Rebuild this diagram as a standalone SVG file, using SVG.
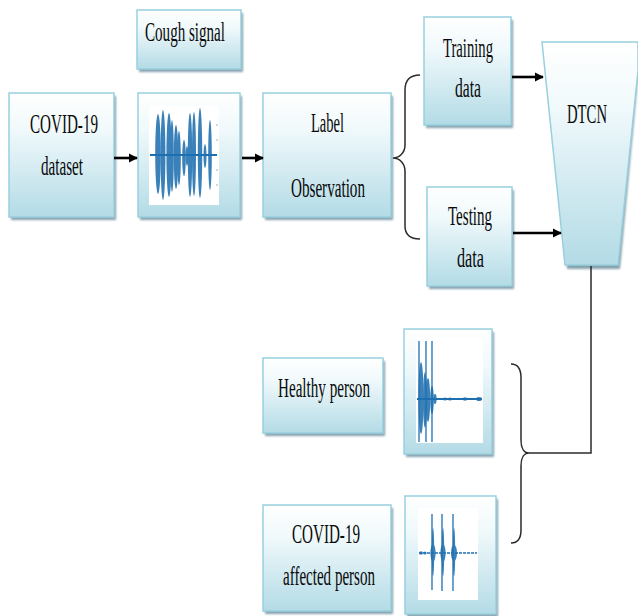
<svg xmlns="http://www.w3.org/2000/svg" width="638" height="616" viewBox="0 0 638 616">
  <defs>
    <linearGradient id="boxFill" x1="0" y1="0" x2="0" y2="1">
      <stop offset="0" stop-color="#ffffff"/>
      <stop offset="0.3" stop-color="#f0f9fb"/>
      <stop offset="1" stop-color="#b3dbe6"/>
    </linearGradient>
    <filter id="soft" x="-10%" y="-10%" width="120%" height="120%">
      <feGaussianBlur stdDeviation="0.8"/>
    </filter>
    <filter id="waveBlur" x="-10%" y="-10%" width="120%" height="120%">
      <feGaussianBlur stdDeviation="0.6"/>
    </filter>
    <marker id="arrow" viewBox="0 0 10 10" refX="9" refY="5" markerWidth="9" markerHeight="11" markerUnits="userSpaceOnUse" orient="auto">
      <path d="M0,0 L10,5 L0,10 Z" fill="#000"/>
    </marker>
  </defs>
  <style>
    .shadow { fill: #86a2ad; filter: url(#soft); }
    .box { fill: url(#boxFill); stroke: #98d0de; stroke-width: 1.5; }
    .inner { fill: #ffffff; }
    .lbl { font-family: "Liberation Serif", "Times New Roman", serif; font-size: 27px; fill: #0a0a0a; }
    .mid { text-anchor: middle; }
    .arr { stroke: #000; stroke-width: 2.6; fill: none; marker-end: url(#arrow); }
    .brace { stroke: #2b2b2b; stroke-width: 1.5; fill: none; }
    .wave { filter: url(#waveBlur); }
    .wv { stroke: #1f6fb0; fill: none; }
    .blob { fill: #1f6fb0; opacity: 0.88; }
  </style>

  <rect width="638" height="616" fill="#ffffff"/>

  <!-- Cough signal caption -->
  <g id="cough-signal-title">
    <rect class="shadow" x="139" y="13" width="104" height="59"/>
    <rect class="box" x="137" y="10" width="104" height="59"/>
    <text class="lbl" x="145" y="41" textLength="80" lengthAdjust="spacingAndGlyphs">Cough signal</text>
  </g>

  <!-- COVID-19 dataset -->
  <g id="dataset">
    <rect class="shadow" x="11" y="96" width="105" height="124"/>
    <rect class="box" x="9" y="93" width="105" height="124"/>
    <text class="lbl" x="30" y="133" textLength="68" lengthAdjust="spacingAndGlyphs">COVID-19</text>
    <text class="lbl" x="41" y="175" textLength="42" lengthAdjust="spacingAndGlyphs">dataset</text>
  </g>

  <!-- Cough waveform -->
  <g id="cough-wave">
    <rect class="shadow" x="140" y="96" width="102" height="124"/>
    <rect class="box" x="138" y="93" width="102" height="124"/>
    <rect class="inner" x="149" y="106" width="70" height="99"/>
    <g class="wave">
      <line class="wv" x1="150" y1="155" x2="217" y2="155" stroke-width="1.8"/>
      <g class="blob">
        <ellipse cx="158" cy="154" rx="2.8" ry="40"/>
        <ellipse cx="163" cy="155" rx="2.4" ry="45"/>
        <ellipse cx="169" cy="155" rx="2.6" ry="42"/>
        <ellipse cx="172" cy="156" rx="1.8" ry="36"/>
        <ellipse cx="176" cy="157" rx="2.2" ry="32"/>
        <ellipse cx="179" cy="158" rx="1.8" ry="27"/>
        <ellipse cx="184" cy="158" rx="1.8" ry="18"/>
        <ellipse cx="187" cy="156" rx="1.4" ry="10"/>
        <ellipse cx="190" cy="155" rx="2.2" ry="42"/>
        <ellipse cx="194" cy="154" rx="2" ry="42"/>
        <ellipse cx="200" cy="153" rx="2.2" ry="45"/>
        <ellipse cx="205" cy="156" rx="1.5" ry="12"/>
        <ellipse cx="210" cy="155" rx="1.8" ry="35"/>
      </g>
    </g>
    <g fill="#9aa7b0">
      <circle cx="217" cy="125" r="0.8"/>
      <circle cx="217" cy="140" r="0.8"/>
      <circle cx="217" cy="170" r="0.8"/>
      <circle cx="217" cy="185" r="0.8"/>
    </g>
  </g>

  <!-- Label observation -->
  <g id="label-observation">
    <rect class="shadow" x="265" y="96" width="128" height="124"/>
    <rect class="box" x="263" y="93" width="128" height="124"/>
    <text class="lbl" x="311" y="132" textLength="33" lengthAdjust="spacingAndGlyphs">Label</text>
    <text class="lbl" x="291" y="197" textLength="74" lengthAdjust="spacingAndGlyphs">Observation</text>
  </g>

  <!-- Training data -->
  <g id="training-data">
    <rect class="shadow" x="426" y="20" width="87" height="108"/>
    <rect class="box" x="424" y="17" width="87" height="108"/>
    <text class="lbl" x="443" y="57" textLength="50" lengthAdjust="spacingAndGlyphs">Training</text>
    <text class="lbl" x="455" y="97" textLength="26" lengthAdjust="spacingAndGlyphs">data</text>
  </g>

  <!-- Testing data -->
  <g id="testing-data">
    <rect class="shadow" x="429" y="190" width="85" height="99"/>
    <rect class="box" x="427" y="187" width="85" height="99"/>
    <text class="lbl" x="448" y="225" textLength="44" lengthAdjust="spacingAndGlyphs">Testing</text>
    <text class="lbl" x="457" y="267" textLength="27" lengthAdjust="spacingAndGlyphs">data</text>
  </g>

  <!-- DTCN funnel (right edge runs off the canvas edge) -->
  <g id="dtcn">
    <polygon class="shadow" points="544,45 638,45 638,78 620,269 567,269"/>
    <polygon class="box" points="542,42 638,42 638,71 618,265 565,265"/>
    <text class="lbl mid" transform="translate(587,123) scale(0.545,1)">DTCN</text>
  </g>

  <!-- Healthy person -->
  <g id="healthy-person">
    <rect class="shadow" x="265" y="361" width="120" height="75"/>
    <rect class="box" x="263" y="358" width="120" height="75"/>
    <text class="lbl" x="278" y="397" textLength="92" lengthAdjust="spacingAndGlyphs">Healthy person</text>
  </g>

  <!-- Healthy waveform -->
  <g id="healthy-wave">
    <rect class="shadow" x="406" y="332" width="88" height="125"/>
    <rect class="box" x="404" y="329" width="88" height="125"/>
    <rect class="inner" x="416" y="338" width="67" height="105"/>
    <g class="wave">
      <line class="wv" x1="417" y1="399" x2="482" y2="399" stroke-width="1.8"/>
      <g class="wv" stroke-width="1.3">
        <line x1="419" y1="341" x2="419" y2="442"/>
        <line x1="426" y1="341" x2="426" y2="442"/>
        <line x1="432" y1="341" x2="432" y2="442"/>
      </g>
      <g class="blob">
        <ellipse cx="421" cy="398" rx="2.6" ry="36"/>
        <ellipse cx="425" cy="400" rx="2" ry="28"/>
        <ellipse cx="428" cy="400" rx="2.2" ry="22"/>
        <ellipse cx="432" cy="400" rx="1.8" ry="14"/>
        <ellipse cx="435" cy="399" rx="1.6" ry="5"/>
        <ellipse cx="445" cy="399" rx="2" ry="1.6"/>
        <ellipse cx="450" cy="399" rx="2" ry="1.6"/>
        <ellipse cx="465" cy="399" rx="2.4" ry="1.8"/>
        <ellipse cx="479" cy="399" rx="3" ry="2"/>
      </g>
    </g>
  </g>

  <!-- COVID-19 affected person -->
  <g id="covid-person">
    <rect class="shadow" x="265" y="508" width="128" height="106"/>
    <rect class="box" x="263" y="505" width="128" height="106"/>
    <text class="lbl" x="292" y="543" textLength="68" lengthAdjust="spacingAndGlyphs">COVID-19</text>
    <text class="lbl" x="283" y="585" textLength="92" lengthAdjust="spacingAndGlyphs">affected person</text>
  </g>

  <!-- COVID-19 waveform -->
  <g id="covid-wave">
    <rect class="shadow" x="407" y="499" width="91" height="118"/>
    <rect class="box" x="405" y="496" width="91" height="118"/>
    <rect class="inner" x="418" y="508" width="60" height="92"/>
    <g class="wave">
      <line class="wv" x1="419" y1="553" x2="477" y2="553" stroke-width="1.6" stroke-dasharray="3 1"/>
      <g class="wv" stroke-width="1.3">
        <line x1="432" y1="514" x2="432" y2="590"/>
        <line x1="442" y1="514" x2="442" y2="591"/>
        <line x1="453" y1="514" x2="453" y2="591"/>
      </g>
      <g class="blob">
        <ellipse cx="421" cy="553" rx="2" ry="1.8"/>
        <ellipse cx="425" cy="553" rx="1.6" ry="1.5"/>
        <ellipse cx="433" cy="553" rx="2.6" ry="9"/>
        <ellipse cx="443" cy="553" rx="2.6" ry="9"/>
        <ellipse cx="454" cy="553" rx="3" ry="8"/>
        <ellipse cx="433" cy="552" rx="1.2" ry="24"/>
        <ellipse cx="443" cy="552" rx="1.2" ry="24"/>
        <ellipse cx="454" cy="552" rx="1.2" ry="24"/>
      </g>
    </g>
  </g>

  <!-- Connectors -->
  <g id="connectors">
    <line class="arr" x1="114" y1="158" x2="137" y2="158"/>
    <line class="arr" x1="242" y1="158" x2="263" y2="158"/>
    <line class="arr" x1="512" y1="77" x2="543" y2="77"/>
    <line class="arr" x1="513" y1="233" x2="561" y2="233"/>
    <!-- split from label observation into training / testing -->
    <path class="brace" d="M420,75 C410,75 405,80 405,90 L405,145 C405,153 399,158 393,158 C399,158 405,163 405,171 L405,226 C405,235 410,239 420,239"/>
    <!-- output brace joining the two classes back to DTCN -->
    <path class="brace" d="M511,364 C518,364 521,369 521,378 L521,440 C521,448 524,453 529,453 C524,453 521,458 521,466 L521,530 C521,539 518,543 511,543"/>
    <path class="brace" d="M529,453 L591,453 L591,266"/>
  </g>
</svg>
